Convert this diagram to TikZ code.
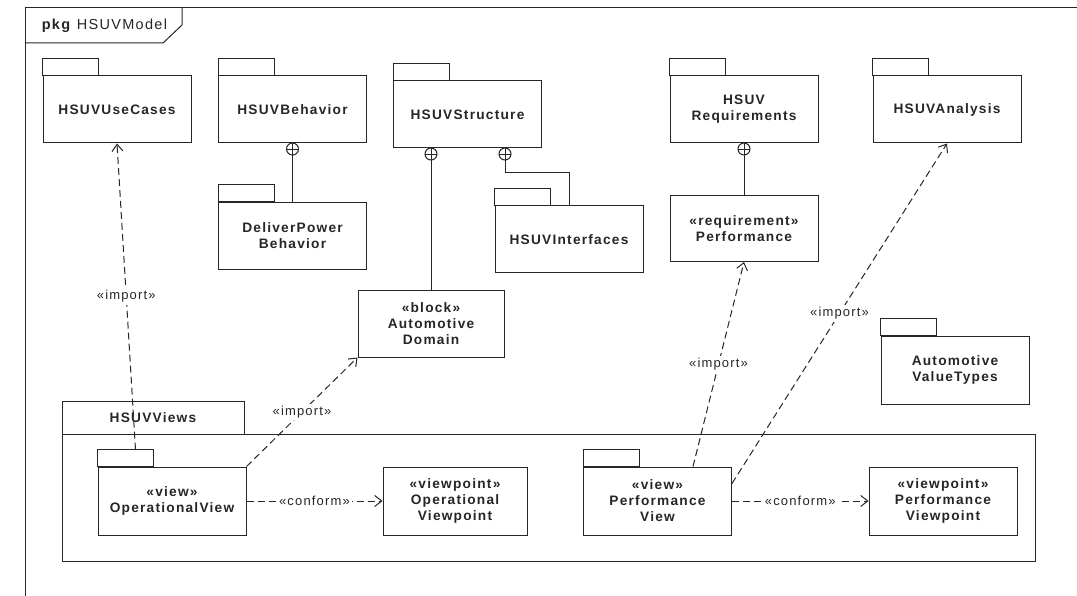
\documentclass[tikz,border=0pt]{standalone}
\usepackage{fontspec}
\setmainfont{Liberation Sans}[LetterSpace=9]
\usetikzlibrary{arrows.meta,calc}
\newcommand{\bodyfont}{\fontsize{13.7}{16}\selectfont\bfseries}
\newcommand{\lblfont}{\fontsize{13}{15}\selectfont}

\begin{document}
\begin{tikzpicture}[x=1pt, y=1pt, line width=1pt, color=black!85,
    body/.style={draw, minimum width=148, minimum height=67, inner sep=2pt, align=center, font=\bodyfont},
    contain/.style={circle, draw, fill=white, minimum size=12, inner sep=0pt,
        path picture={\draw[line width=.9pt] (path picture bounding box.north) -- (path picture bounding box.south)
            (path picture bounding box.west) -- (path picture bounding box.east);}},
    dep/.style={dash pattern=on 7pt off 4pt, -{Straight Barb[length=7pt, width=11pt]}},
    lbl/.style={fill=white, inner sep=2pt, font=\lblfont}]

    \useasboundingbox (0,0) rectangle (1077,-596);

    % outer frame
    \draw (1077,-8) -- (25,-8) -- (25,-596);
    \draw (25,-43) -- (163,-43) -- (182,-25) -- (182,-8);
    \node[anchor=west, font=\fontsize{14.5}{16}\selectfont] (frm) at (38,-26) {\textbf{pkg} HSUVModel};

    % packages and blocks
    \node[body] (uc) at (117,-109.5) {HSUVUseCases};
    \node[body] (beh) at (292.5,-109.5) {HSUVBehavior};
    \node[body] (str) at (467.5,-114.5) {HSUVStructure};
    \node[body] (req) at (744,-109.5) {HSUV\\Requirements};
    \node[body] (ana) at (947,-109.5) {HSUVAnalysis};
    \node[body] (dpb) at (292.5,-236) {DeliverPower\\Behavior};
    \node[body] (ifc) at (569,-239.5) {HSUVInterfaces};
    \node[body, minimum height=66] (perf) at (744,-228.5) {«requirement»\\Performance};
    \node[body, minimum width=146, minimum height=66] (dom) at (431,-324) {«block»\\Automotive\\Domain};
    \node[body, minimum height=68] (avt) at (955,-370) {Automotive\\ValueTypes};

    % HSUVViews
    \node[body, minimum width=182, minimum height=33] (viewstab) at (153,-417.5) {HSUVViews};
    \node[draw, minimum width=973, minimum height=127] (views) at (548.5,-497.5) {};
    \node[body, minimum height=68] (ov) at (172,-501) {«view»\\OperationalView};
    \node[body, minimum width=144, minimum height=68] (ovp) at (455,-501) {«viewpoint»\\Operational\\Viewpoint};
    \node[body, minimum height=68] (pv) at (657.5,-501) {«view»\\Performance\\View};
    \node[body, minimum height=68] (pvp) at (943,-501) {«viewpoint»\\Performance\\Viewpoint};

    % tabs
    \foreach \p in {uc,beh,str,req,ana,dpb,ifc,avt,ov,pv}
        \draw (\p.north west) rectangle ++(56,17);

    % containment
    \node[contain] (c1) at (292.5,-149) {};
    \node[contain] (c2) at (431,-154) {};
    \node[contain] (c3) at (505,-154) {};
    \node[contain] (c4) at (744,-149) {};
    \draw (c1) -- (dpb);
    \draw (c2) -- (c2 |- dom.north);
    \draw (c3.south) -- ++(0,-12) -| (ifc.north);
    \draw (c4) -- (perf);

    % dependencies
    \draw[dep] ($(ov.north west)+(38,17)$) -- node[lbl] {«import»} (uc.south);
    \draw[dep] (ov.north east) -- node[lbl] {«import»} (dom.south west);
    \draw[dep] (ov) -- node[lbl] {«conform»} (ovp);
    \draw[dep] ($(pv.north west)+(110,0)$) -- node[lbl] {«import»} (perf.south);
    \draw[dep] ($(pv.north east)+(0,-17)$) -- node[lbl] {«import»} (ana.south);
    \draw[dep] (pv) -- node[lbl] {«conform»} (pvp);

\end{tikzpicture}
\end{document}
